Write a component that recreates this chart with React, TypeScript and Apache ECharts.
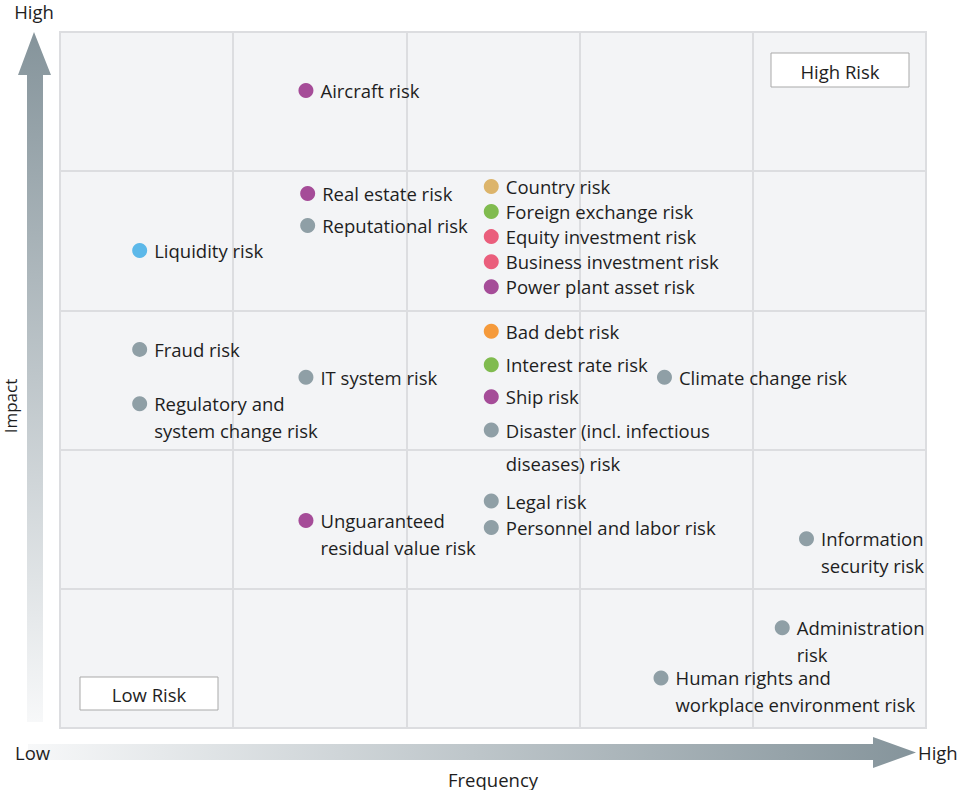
import React, { useEffect, useRef } from "react";
import * as echarts from "echarts";

const riskNames: string[] = [
  "Aircraft risk",
  "Real estate risk",
  "Reputational risk",
  "Liquidity risk",
  "Country risk",
  "Foreign exchange risk",
  "Equity investment risk",
  "Business investment risk",
  "Power plant asset risk",
  "Bad debt risk",
  "Interest rate risk",
  "Ship risk",
  "Disaster (incl. infectious\ndiseases) risk",
  "Climate change risk",
  "Fraud risk",
  "IT system risk",
  "Regulatory and\nsystem change risk",
  "Unguaranteed\nresidual value risk",
  "Legal risk",
  "Personnel and labor risk",
  "Information\nsecurity risk",
  "Administration\nrisk",
  "Human rights and\nworkplace environment risk",
];

// Frequency (0-5)
const frequency: number[] = [
  1.42, 1.43, 1.43, 0.46, 2.49, 2.49, 2.49, 2.49, 2.49, 2.49, 2.49, 2.49, 2.49,
  3.49, 0.46, 1.42, 0.46, 1.42, 2.49, 2.49, 4.31, 4.17, 3.47,
];

// Impact (0-5)
const impact: number[] = [
  4.58, 3.84, 3.61, 3.43, 3.89, 3.71, 3.53, 3.35, 3.17, 2.85, 2.61, 2.38, 2.14,
  2.52, 2.72, 2.52, 2.33, 1.49, 1.63, 1.44, 1.36, 0.72, 0.36,
];

const riskColors: string[] = [
  "#a54c98", "#a54c98", "#8f9fa6", "#5cb8e9", "#dcb46b", "#80bb4f", "#ea5e7c",
  "#ea5e7c", "#a54c98", "#f59a3b", "#80bb4f", "#a54c98", "#8f9fa6", "#8f9fa6",
  "#8f9fa6", "#8f9fa6", "#8f9fa6", "#a54c98", "#8f9fa6", "#8f9fa6", "#8f9fa6",
  "#8f9fa6", "#8f9fa6",
];

const FONT = "'Open Sans', 'Noto Sans', sans-serif";
const TEXT = "#1e1e1e";
const FS = 18.5;

export default function App() {
  const ref = useRef<HTMLDivElement>(null);

  useEffect(() => {
    document.body.style.margin = "0";
    if (!ref.current) return;
    const chart = echarts.init(ref.current, undefined, { renderer: "svg" });

    const data = riskNames.map((name, i) => {
      const lh = name.startsWith("Disaster") ? 33 : 27;
      return {
        name,
        value: [frequency[i], impact[i]],
        itemStyle: { color: riskColors[i], opacity: 1 },
        label: { lineHeight: lh, offset: [0, -lh / 2] },
      };
    });

    const txt = (text: string, x: number, y: number, align = "center", extra: any = {}, fs = FS) => ({
      type: "text",
      x,
      y,
      ...extra,
      style: {
        text,
        fontSize: fs,
        fontFamily: FONT,
        fill: TEXT,
        align,
        verticalAlign: "middle",
      },
    });

    chart.setOption({
      animation: false,
      grid: {
        left: 60,
        right: 34,
        top: 32,
        bottom: 62,
        show: true,
        backgroundColor: "#f3f4f6",
        borderColor: "#dcdde0",
        borderWidth: 2,
      },
      xAxis: {
        type: "value",
        min: 0,
        max: 5,
        interval: 1,
        axisLine: { show: false },
        axisTick: { show: false },
        axisLabel: { show: false },
        splitLine: { show: true, lineStyle: { color: "#dcdde0", width: 2 } },
      },
      yAxis: {
        type: "value",
        min: 0,
        max: 5,
        interval: 1,
        axisLine: { show: false },
        axisTick: { show: false },
        axisLabel: { show: false },
        splitLine: { show: true, lineStyle: { color: "#dcdde0", width: 2 } },
      },
      series: [
        {
          type: "scatter",
          symbolSize: 15,
          data,
          itemStyle: { opacity: 1 },
          label: {
            show: true,
            position: "right",
            distance: 7,
            formatter: "{b}",
            verticalAlign: "top",
            align: "left",
            color: TEXT,
            fontSize: FS,
            fontFamily: FONT,
          },
        },
      ],
      graphic: [
        {
          type: "polygon",
          shape: {
            points: [
              [34, 32], [51, 75], [43, 75], [43, 722], [27, 722], [27, 75], [18, 75],
            ],
          },
          style: {
            fill: new echarts.graphic.LinearGradient(0, 0, 0, 1, [
              { offset: 0, color: "#85949b" },
              { offset: 1, color: "#f7f8f9" },
            ]),
          },
        },
        {
          type: "polygon",
          shape: {
            points: [
              [28, 744], [873, 744], [873, 737], [916, 752.5], [873, 768], [873, 760], [28, 760],
            ],
          },
          style: {
            fill: new echarts.graphic.LinearGradient(0, 0, 1, 0, [
              { offset: 0, color: "#f7f8f9" },
              { offset: 1, color: "#85949b" },
            ]),
          },
        },
        txt("High", 34, 11),
        txt("Impact", 10, 406, "center", { rotation: Math.PI / 2 }, 17),
        txt("Low", 15, 752, "left"),
        txt("High", 918, 752, "left"),
        txt("Frequency", 493, 779),
        {
          type: "rect",
          shape: { x: 771, y: 53, width: 138, height: 34 },
          style: { fill: "#ffffff", stroke: "#a9a9a9", lineWidth: 1 },
        },
        txt("High Risk", 840, 71),
        {
          type: "rect",
          shape: { x: 80, y: 677, width: 138, height: 33 },
          style: { fill: "#ffffff", stroke: "#a9a9a9", lineWidth: 1 },
        },
        txt("Low Risk", 149, 694),
      ],
    });

    return () => chart.dispose();
  }, []);

  return <div ref={ref} style={{ width: 960, height: 790 }} />;
}
